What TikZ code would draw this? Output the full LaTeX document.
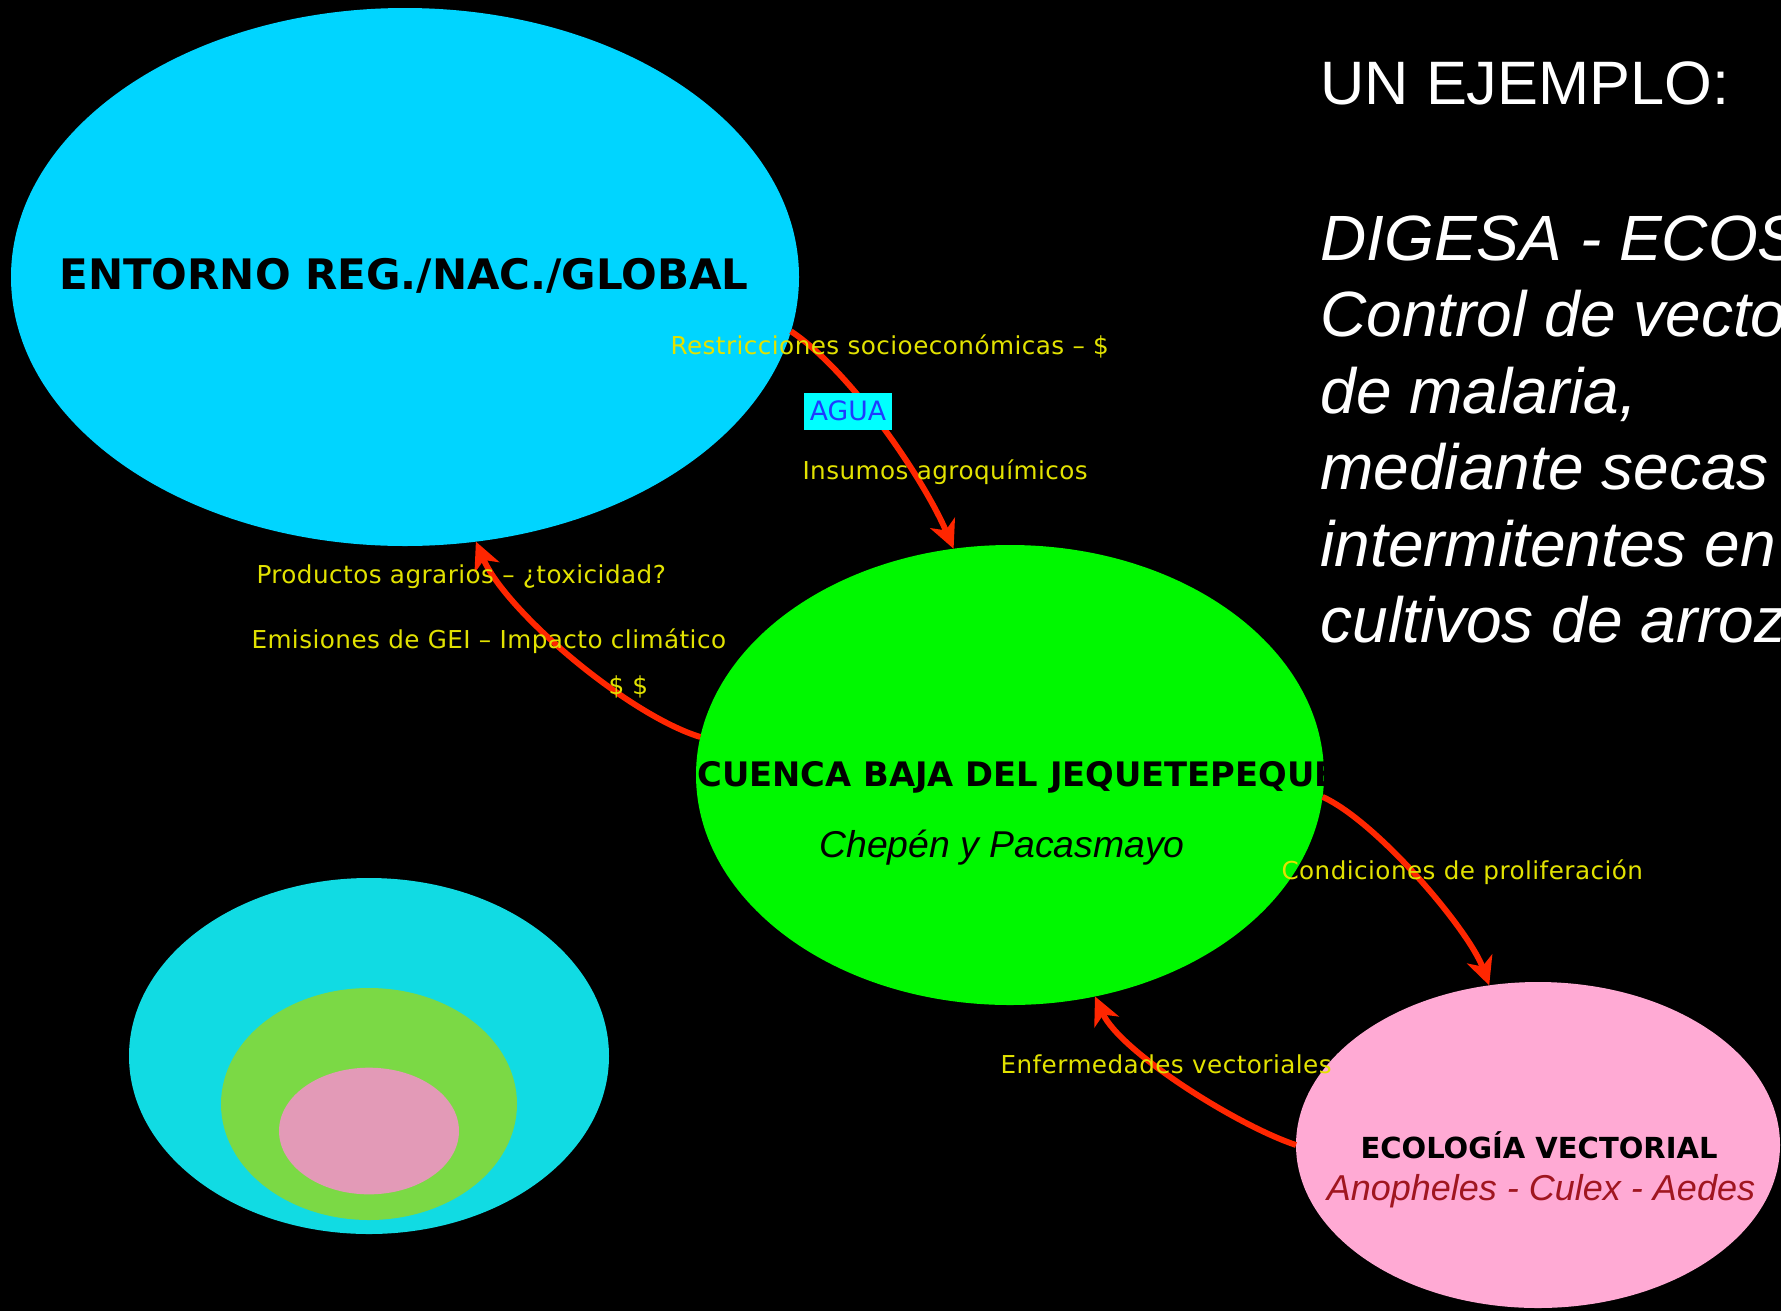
\documentclass[tikz,border=0pt]{standalone}
\usepackage{fontspec}
\usetikzlibrary{shapes.geometric,arrows.meta}
\newfontfamily\labelfont{DejaVu Sans}[LetterSpace=1.8]
\newfontfamily\titlefont{DejaVu Sans}
\newfontfamily\slidefont{Liberation Sans}
\definecolor{entornoblue}{RGB}{0,213,255}
\definecolor{cuencagreen}{RGB}{0,248,0}
\definecolor{vectorpink}{RGB}{255,170,212}
\definecolor{flowred}{RGB}{255,38,0}
\definecolor{lblyellow}{RGB}{226,226,0}
\definecolor{aguacyan}{RGB}{0,255,255}
\definecolor{aguablue}{RGB}{30,60,255}
\definecolor{aedesred}{RGB}{160,22,32}
\definecolor{legendcyan}{RGB}{17,219,227}
\definecolor{legendgreen}{RGB}{123,217,69}
\definecolor{legendpink}{RGB}{227,154,183}
\tikzset{every picture/.style={line width=0.75pt}}

\begin{document}
\begin{tikzpicture}[x=0.75pt,y=0.75pt,yscale=-1,xscale=1,
	zone/.style={ellipse,draw=none,inner sep=0pt,outer sep=0pt},
	flow/.style={draw=flowred,line width=4.4pt,-{Stealth[length=21pt,width=20pt,inset=6pt]}},
	lbl/.style={text=lblyellow,font=\labelfont\fontsize{18.5}{20}\selectfont,inner sep=0pt,anchor=west},
	title/.style={text=black,font=\titlefont\bfseries\fontsize{#1}{#1}\selectfont,inner sep=0pt},
	slide/.style={text=white,inner sep=0pt,anchor=base west,font=\slidefont\itshape\fontsize{48}{56}\selectfont}]
	%set diagram size 1781 x 1311
	\useasboundingbox (0,0) rectangle (1781,1311);
	\fill[black] (0,0) rectangle (1781,1311);
	\clip (0,0) rectangle (1781,1311);

	%Shape: Ellipse [entorno]
	\node[zone,fill=entornoblue,minimum width=591pt,minimum height=403.5pt] (entorno) at (405,277) {};
	%Shape: Ellipse [cuenca]
	\node[zone,fill=cuencagreen,minimum width=471pt,minimum height=345pt] (cuenca) at (1010,775) {};
	%Shape: Ellipse [ecologia]
	\node[zone,fill=vectorpink,minimum width=363pt,minimum height=244.5pt] (ecologia) at (1538,1145) {};
	%Shape: Ellipse [nested levels]
	\node[zone,fill=legendcyan,minimum width=360pt,minimum height=267pt] (levelout) at (369,1056) {};
	\node[zone,fill=legendgreen,minimum width=222pt,minimum height=174pt] (levelmid) at (369,1104) {};
	\node[zone,fill=legendpink,minimum width=135pt,minimum height=95pt] (levelin) at (369,1131) {};

	%Curve Lines [entorno -> cuenca]
	\draw[flow] (entorno.-8.8) .. controls +(60,40) and +(-30,-70) .. (cuenca.104);
	%Curve Lines [cuenca -> entorno]
	\draw[flow] (cuenca.173.9) .. controls +(-72,-22) and +(30,70) .. (entorno.-75.1);
	%Curve Lines [cuenca -> ecologia]
	\draw[flow] (cuenca.-4.8) .. controls +(55,25) and +(-20,-55) .. (ecologia.107.1);
	%Curve Lines [ecologia -> cuenca]
	\draw[flow] (ecologia.180) .. controls +(-60,-20) and +(25,55) .. (cuenca.-69.8);

	% Text Node
	\node[title=31.5] (entornotxt) at (404,276) {ENTORNO REG./NAC./GLOBAL};
	% Text Node
	\begin{scope}
		\clip (cuenca.center) ellipse [x radius=314,y radius=230];
		\node[title=25.3,anchor=west] (cuencatxt) at (697,777) {CUENCA BAJA DEL JEQUETEPEQUE};
	\end{scope}
	% Text Node
	\node[inner sep=0pt,anchor=base,font=\slidefont\itshape\fontsize{28}{32}\selectfont] (chepen) at (1002,857) {Chepén y Pacasmayo};
	% Text Node
	\node[title=21.75,anchor=base] (ecologiatxt) at (1539,1158) {ECOLOGÍA VECTORIAL};
	% Text Node
	\node[inner sep=0pt,anchor=base,text=aedesred,font=\slidefont\itshape\fontsize{27}{30}\selectfont] (aedes) at (1541,1200) {Anopheles - Culex - Aedes};

	% Text Node
	\node[lbl] (restric) at (670,346) {Restricciones socioeconómicas – \$};
	% Text Node
	\node[fill=aguacyan,text=aguablue,font=\titlefont\fontsize{20}{22}\selectfont,minimum width=66pt,minimum height=27.75pt,inner sep=0pt] (agua) at (848,411) {AGUA};
	% Text Node
	\node[lbl] (insumos) at (802,472) {Insumos agroquímicos};
	% Text Node
	\node[lbl] (productos) at (256,577) {Productos agrarios – ¿toxicidad?};
	% Text Node
	\node[lbl] (emisiones) at (251,641) {Emisiones de GEI – Impacto climático};
	% Text Node
	\node[lbl] (dinero) at (608,687) {\$ \$};
	% Text Node
	\node[lbl] (condiciones) at (1281,872) {Condiciones de proliferación};
	% Text Node
	\node[lbl] (enfermedades) at (1000,1064) {Enfermedades vectoriales};

	% Text Node
	\node[slide,font=\slidefont\fontsize{46}{56}\selectfont] (ejemplo) at (1320,104) {UN EJEMPLO:};
	% Text Node
	\node[slide] (digesa) at (1320,260) {DIGESA - ECOSALUD};
	\node[slide] (control) at (1320,336.5) {Control de vectores};
	\node[slide] (malaria) at (1320,413) {de malaria,};
	\node[slide] (secas) at (1320,489.5) {mediante secas};
	\node[slide] (intermitentes) at (1320,566) {intermitentes en};
	\node[slide] (cultivos) at (1320,642.5) {cultivos de arroz};
\end{tikzpicture}
\end{document}
